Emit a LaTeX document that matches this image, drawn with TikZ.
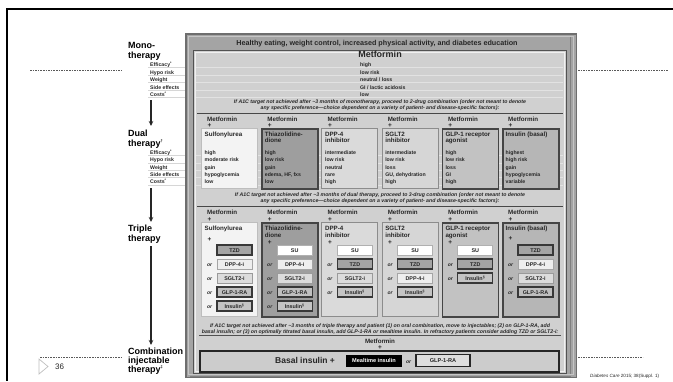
\documentclass[tikz,border=0pt]{standalone}
\usepackage{fontspec}
\setmainfont{Liberation Sans}
\usetikzlibrary{arrows.meta}

\newcommand{\setfs}[1]{\fontsize{#1}{#1}\selectfont}

% ink and panel greys
\definecolor{ink}{HTML}{262626}
\definecolor{frameDark}{HTML}{6E6E6E}
\definecolor{frameMid}{HTML}{A4A4A4}
\definecolor{frameLight}{HTML}{C6C6C6}
\definecolor{panelFill}{HTML}{D0D0D0}
\definecolor{rowLineOut}{HTML}{D6D6D6}
\definecolor{rowLineIn}{HTML}{E2E2E2}
% column boxes (fill f*, edge e*)
\definecolor{fSU}{HTML}{F3F3F3}\definecolor{eSU}{HTML}{BDBDBD}
\definecolor{fTZD}{HTML}{9E9E9E}\definecolor{eTZD}{HTML}{454545}
\definecolor{fDPP}{HTML}{DADADA}\definecolor{eDPP}{HTML}{8C8C8C}
\definecolor{fSGLT}{HTML}{D6D6D6}\definecolor{eSGLT}{HTML}{8C8C8C}
\definecolor{fGLP}{HTML}{C2C2C2}\definecolor{eGLP}{HTML}{454545}
\definecolor{fINS}{HTML}{B6B6B6}\definecolor{eINS}{HTML}{454545}
\def\lwSU{0.8}\def\lwTZD{1.5}\def\lwDPP{1.0}\def\lwSGLT{1.0}\def\lwGLP{1.5}\def\lwINS{1.5}
% add-on drug boxes (fill g*, edge h*)
\definecolor{gSU}{HTML}{FFFFFF}\definecolor{hSU}{HTML}{B0B0B0}
\definecolor{gTZD}{HTML}{A4A4A4}\definecolor{hTZD}{HTML}{383838}
\definecolor{gDPP}{HTML}{EEEEEE}\definecolor{hDPP}{HTML}{A5A5A5}
\definecolor{gSGLT}{HTML}{DCDCDC}\definecolor{hSGLT}{HTML}{9A9A9A}
\definecolor{gGLP}{HTML}{BFBFBF}\definecolor{hGLP}{HTML}{383838}
\definecolor{gINS}{HTML}{C4C4C4}\definecolor{hINS}{HTML}{383838}
\def\owSU{0.9}\def\owTZD{1.3}\def\owDPP{0.9}\def\owSGLT{0.9}\def\owGLP{1.3}\def\owINS{1.3}

\begin{document}
\begin{tikzpicture}[x=1pt,y=-1pt,
  line1/.style={inner sep=0pt, text height=0.72em, text depth=0.2em, text=ink},
  stage/.style={line1, anchor=west, font=\setfs{9}\bfseries, text=black},
  rowlbl/.style={line1, anchor=west, font=\setfs{5.2}\bfseries},
  val/.style={line1, anchor=west, font=\setfs{5.2}\bfseries},
  metf/.style={line1, anchor=west, font=\setfs{6.2}\bfseries},
  plus/.style={line1, anchor=center, font=\setfs{6.5}\bfseries},
  ttl/.style={line1, anchor=west, font=\setfs{6.2}\bfseries},
  orword/.style={line1, anchor=center, font=\setfs{5}\bfseries\itshape},
  note/.style={inner sep=0pt, align=center, text=ink, font=\fontsize{5.2}{6}\selectfont\bfseries\itshape},
  colbox/.style={rectangle, anchor=north west, minimum width=56pt, inner sep=0pt},
  optbox/.style={rectangle, minimum width=35pt, minimum height=10pt, inner sep=0pt,
    text height=0.72em, text depth=0.2em, text=ink, font=\setfs{5.4}\bfseries},
  sep/.style={draw=ink!85, line width=0.8pt},
  stagearrow/.style={draw=ink, line width=1.2pt, -{Stealth[length=5pt,width=4.5pt]}},
  guide/.style={draw=black!65, line width=0.5pt, dash pattern=on 1.6pt off 1pt}
]
\useasboundingbox (0,0) rectangle (673,381);

% slide frame and guide rules
\draw[line width=2pt, black] (673,9) -- (7,9) -- (7,381);
\draw[guide] (30,70) -- (122,70);
\draw[guide] (578,70) -- (668,70);
\draw[guide] (40,357) -- (122,357);
\draw[guide] (578,357) -- (643,357);

% page number and citation
\draw[black!25, line width=0.7pt] (39,359) -- (48,366.5) -- (39,374) -- cycle;
\node[line1, anchor=west, font=\setfs{8}] (pagenum) at (55,366.5) {36};
\node[line1, anchor=west, font=\setfs{4.6}] (cite) at (590,375) {\textit{Diabetes Care} 2015; 38(Suppl. 1)};

% outer panel with bevelled rim
\fill[frameDark] (185,33) rectangle (577,378);
\fill[frameMid] (186.5,34.5) rectangle (575.5,376.5);
\draw[frameLight, line width=0.8pt] (188.5,36.5) rectangle (573.5,374.5);
\draw[black!50, line width=0.6pt] (570.5,37) -- (570.5,374);
\draw[black!50, line width=0.6pt] (190,375.8) -- (571,375.8);
\node[line1, font=\setfs{7.2}\bfseries] (lifestyle) at (377,43) {Healthy eating, weight control, increased physical activity, and diabetes education};
\node[rectangle, anchor=north west, minimum width=373pt, minimum height=323pt, fill=panelFill, draw=black!68, line width=1pt] (inner) at (193,50) {};
\draw[white!88!gray, line width=0.6pt] (195,52) rectangle (564,371);

% stage labels and arrows
\node[stage] (monoA) at (128,46) {Mono-};
\node[stage] (monoB) at (128,55.5) {therapy};
\node[stage] (dualA) at (128,134) {Dual};
\node[stage] (dualB) at (128,143.5) {therapy\textsuperscript{\setfs{4}†}};
\node[stage] (tripA) at (128,229) {Triple};
\node[stage] (tripB) at (128,238.5) {therapy};
\node[stage] (combA) at (128,352) {Combination};
\node[stage] (combB) at (128,361) {injectable};
\node[stage] (combC) at (128,370) {therapy\textsuperscript{\setfs{4}‡}};
\coordinate (arrA1) at (151,100); \coordinate (arrA2) at (151,126);
\coordinate (arrB1) at (151,188); \coordinate (arrB2) at (151,222);
\coordinate (arrC1) at (151,246); \coordinate (arrC2) at (151,345);
\draw[stagearrow] (arrA1) -- (arrA2);
\draw[stagearrow] (arrB1) -- (arrB2);
\draw[stagearrow] (arrC1) -- (arrC2);

% row guides: monotherapy block and dual therapy block
\foreach \r/\y in {1/64,2/71.5,3/79,4/86.5,5/94}{
  \draw[rowLineOut, line width=0.6pt] (148,\y+3.6) -- (185,\y+3.6);
  \draw[rowLineIn, line width=0.6pt] (196,\y+3.6) -- (563,\y+3.6);
}
\foreach \r/\y in {1/152,2/159.3,3/166.6,4/173.9,5/181.2}{
  \draw[rowLineOut, line width=0.6pt] (148,\y+3.6) -- (185,\y+3.6);
  \draw[rowLineIn, line width=0.6pt] (196,\y+3.6) -- (563,\y+3.6);
}
\foreach \r/\y/\txt in {1/64/{Efficacy\textsuperscript{*}},2/71.5/{Hypo risk},3/79/Weight,4/86.5/{Side effects},5/94/{Costs\textsuperscript{*}}}{
  \node[rowlbl] (mlab\r) at (150,\y) {\txt};
}
\foreach \r/\y/\txt in {1/152/{Efficacy\textsuperscript{*}},2/159.3/{Hypo risk},3/166.6/Weight,4/173.9/{Side effects},5/181.2/{Costs\textsuperscript{*}}}{
  \node[rowlbl] (dlab\r) at (150,\y) {\txt};
}

% monotherapy
\node[line1, font=\setfs{9}\bfseries] (metMono) at (380,55) {Metformin};
\foreach \r/\y/\txt in {1/64/high,2/71.5/{low risk},3/79/{neutral / loss},4/86.5/{GI / lactic acidosis},5/94/low}{
  \node[val] (mval\r) at (360,\y) {\txt};
}
\node[note] (noteMono) at (380,105) {If A1C target not achieved after \textasciitilde3 months of monotherapy, proceed to 2-drug combination (order not meant to denote\\any specific preference\textemdash choice dependent on a variety of patient- and disease-specific factors):};
\coordinate (sepA1) at (197,113.5); \coordinate (sepA2) at (563,113.5);
\draw[sep] (sepA1) -- (sepA2);

% dual therapy columns
\foreach \i/\kd/\ta/\tb/\va/\vb/\vc/\vd/\ve in {
  1/SU/Sulfonylurea//high/{moderate risk}/gain/hypoglycemia/low,
  2/TZD/Thiazolidine-/dione/high/{low risk}/gain/{edema, HF, fxs}/low,
  3/DPP/DPP-4/inhibitor/intermediate/{low risk}/neutral/rare/high,
  4/SGLT/SGLT2/inhibitor/intermediate/{low risk}/loss/{GU, dehydration}/high,
  5/GLP/{GLP-1 receptor}/agonist/high/{low risk}/loss/GI/high,
  6/INS/{Insulin (basal)}//highest/{high risk}/gain/hypoglycemia/variable}{
  \pgfmathsetmacro{\cx}{201+60.2*(\i-1)}
  \node[metf] (dmet\i) at (\cx+6,118.5) {Metformin};
  \node[plus] (dplus\i) at (\cx+8.5,124.5) {+};
  \node[colbox, minimum height=60pt, fill=f\kd, draw=e\kd, line width=\csname lw\kd\endcsname pt] (dbox\i) at (\cx,128) {};
  \node[ttl] (dttlA\i) at (\cx+3.5,133.5) {\ta};
  \node[ttl] (dttlB\i) at (\cx+3.5,140) {\tb};
  \node[val] (dv\i a) at (\cx+3.5,152) {\va};
  \node[val] (dv\i b) at (\cx+3.5,159.3) {\vb};
  \node[val] (dv\i c) at (\cx+3.5,166.6) {\vc};
  \node[val] (dv\i d) at (\cx+3.5,173.9) {\vd};
  \node[val] (dv\i e) at (\cx+3.5,181.2) {\ve};
}
\node[note] (noteDual) at (380,198) {If A1C target not achieved after \textasciitilde3 months of dual therapy, proceed to 3-drug combination (order not meant to denote\\any specific preference\textemdash choice dependent on a variety of patient- and disease-specific factors):};
\coordinate (sepB1) at (197,206); \coordinate (sepB2) at (563,206);
\draw[sep] (sepB1) -- (sepB2);

% triple therapy columns
\foreach \i/\kd/\ta/\tb/\py in {
  1/SU/Sulfonylurea//238.5,
  2/TZD/Thiazolidine-/dione/241.5,
  3/DPP/DPP-4/inhibitor/241.5,
  4/SGLT/SGLT2/inhibitor/241.5,
  5/GLP/{GLP-1 receptor}/agonist/241.5,
  6/INS/{Insulin (basal)}//237.5}{
  \pgfmathsetmacro{\cx}{201+60.2*(\i-1)}
  \node[metf] (tmet\i) at (\cx+6,212) {Metformin};
  \node[plus] (tplus\i) at (\cx+8.5,218.5) {+};
  \node[colbox, minimum height=94pt, fill=f\kd, draw=e\kd, line width=\csname lw\kd\endcsname pt] (tbox\i) at (\cx,222) {};
  \node[ttl] (tttlA\i) at (\cx+3.5,228) {\ta};
  \node[ttl] (tttlB\i) at (\cx+3.5,234.5) {\tb};
  \node[plus] (tplusB\i) at (\cx+8.5,\py) {+};
}
% add-on choices in each triple column
\foreach \i/\k/\kd/\lab in {
  1/1/TZD/TZD, 1/2/DPP/DPP-4-i, 1/3/SGLT/SGLT2-i, 1/4/GLP/GLP-1-RA, 1/5/INS/{Insulin\textsuperscript{\setfs{3.5}§}},
  2/1/SU/SU, 2/2/DPP/DPP-4-i, 2/3/SGLT/SGLT2-i, 2/4/GLP/GLP-1-RA, 2/5/INS/{Insulin\textsuperscript{\setfs{3.5}§}},
  3/1/SU/SU, 3/2/TZD/TZD, 3/3/SGLT/SGLT2-i, 3/4/INS/{Insulin\textsuperscript{\setfs{3.5}§}},
  4/1/SU/SU, 4/2/TZD/TZD, 4/3/DPP/DPP-4-i, 4/4/INS/{Insulin\textsuperscript{\setfs{3.5}§}},
  5/1/SU/SU, 5/2/TZD/TZD, 5/3/INS/{Insulin\textsuperscript{\setfs{3.5}§}},
  6/1/TZD/TZD, 6/2/DPP/DPP-4-i, 6/3/SGLT/SGLT2-i, 6/4/GLP/GLP-1-RA}{
  \pgfmathsetmacro{\cx}{201+60.2*(\i-1)}
  \pgfmathsetmacro{\ry}{250+14*(\k-1)}
  \node[optbox, fill=g\kd, draw=h\kd, line width=\csname ow\kd\endcsname pt] (opt\i-\k) at (\cx+33.5,\ry) {\lab};
  \ifnum\k>1 \node[orword] (or\i-\k) at (\cx+8.5,\ry) {or};\fi
}

% combination injectable therapy
\node[note] (noteTriple) at (380,329) {If A1C target not achieved after \textasciitilde3 months of triple therapy and patient (1) on oral combination, move to injectables; (2) on GLP-1-RA, add\\basal insulin; or (3) on optimally titrated basal insulin, add GLP-1-RA or mealtime insulin. In refractory patients consider adding TZD or SGLT2-i:};
\coordinate (sepC1) at (199,335.6); \coordinate (sepC2) at (561,335.6);
\draw[draw=ink!80, line width=0.5pt] (sepC1) -- (sepC2);
\node[line1, font=\setfs{6.2}\bfseries] (metComb) at (380,340.5) {Metformin};
\node[plus] (plusComb) at (380,346.5) {+};
\node[rectangle, anchor=north west, minimum width=359pt, minimum height=21pt, fill=black!20, draw=ink, line width=1.8pt] (combo) at (199,350) {};
\node[line1, anchor=west, font=\setfs{8.5}\bfseries] (basal) at (275,360.5) {Basal insulin +};
\node[rectangle, fill=black, text=white, minimum width=56pt, minimum height=12pt, inner sep=0pt, font=\setfs{5.6}\bfseries] (meal) at (374,360.5) {Mealtime insulin};
\node[orword] (orComb) at (408.5,360.5) {or};
\node[rectangle, fill=black!13, draw=ink, line width=1.2pt, minimum width=54pt, minimum height=12pt, inner sep=0pt, text=ink, font=\setfs{5.6}\bfseries] (glpComb) at (443,360.5) {GLP-1-RA};
\end{tikzpicture}
\end{document}
